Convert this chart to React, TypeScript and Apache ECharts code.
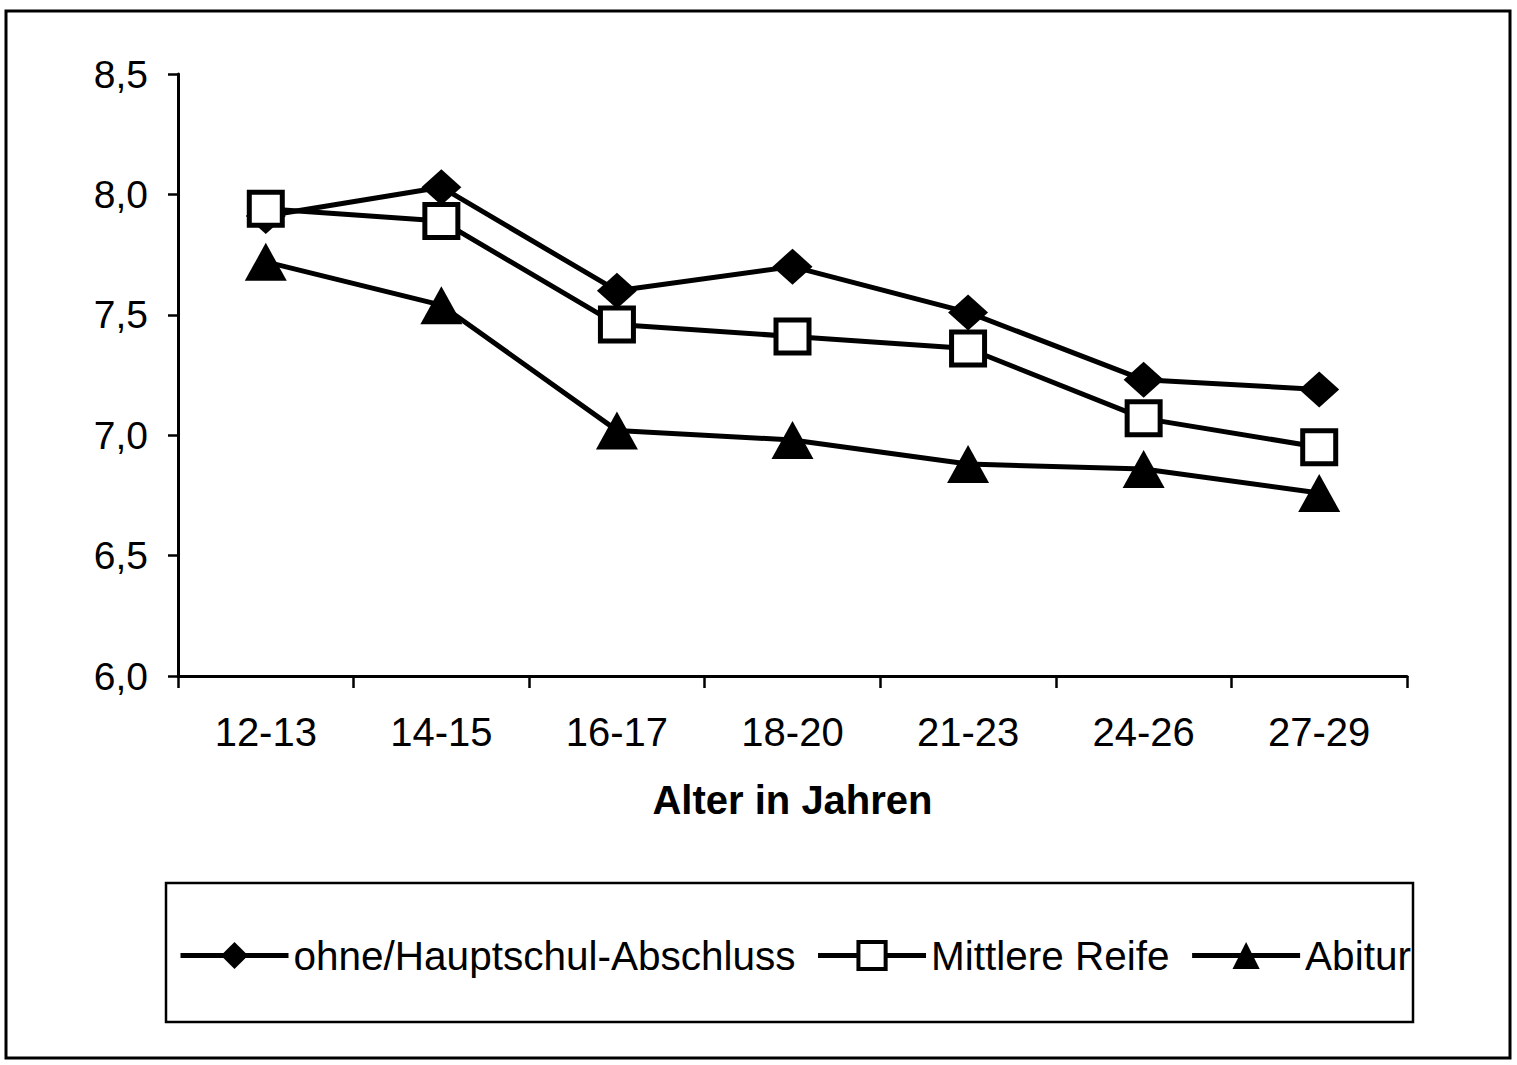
import React, { useEffect, useRef } from "react";
import * as echarts from "echarts";

const categories = ["12-13", "14-15", "16-17", "18-20", "21-23", "24-26", "27-29"];
const ohneHauptschul = [7.91, 8.03, 7.6, 7.7, 7.51, 7.23, 7.19];
const mittlereReife = [7.94, 7.89, 7.46, 7.41, 7.36, 7.07, 6.95];
const abitur = [7.72, 7.54, 7.02, 6.98, 6.88, 6.86, 6.76];
const seriesNames = ["ohne/Hauptschul-Abschluss", "Mittlere Reife", "Abitur"];
const yMin = 6.0;
const yMax = 8.5;
const yStep = 0.5;
const xAxisName = "Alter in Jahren";

const FONT = '"Liberation Sans", Arial, Helvetica, sans-serif';

export default function App() {
  const ref = useRef<HTMLDivElement>(null);
  useEffect(() => {
    if (!ref.current) return;
    const chart = echarts.init(ref.current, null, { renderer: "svg" });
    const lineStyle = { color: "#000", width: 5 };
    chart.setOption({
      animation: false,
      backgroundColor: "#fff",
      textStyle: { fontFamily: FONT, color: "#000" },
      grid: { left: 178, right: 110, top: 74, bottom: 389, containLabel: false },
      xAxis: {
        type: "category",
        data: categories,
        boundaryGap: true,
        name: xAxisName,
        nameLocation: "middle",
        nameGap: 104,
        nameTextStyle: { fontFamily: FONT, fontSize: 40, fontWeight: "bold", color: "#000" },
        axisLine: { lineStyle: { color: "#000", width: 3 } },
        axisTick: { show: true, length: 12, lineStyle: { color: "#000", width: 2.5 } },
        axisLabel: { fontFamily: FONT, fontSize: 40, color: "#000", margin: 36 },
        splitLine: { show: false },
      },
      yAxis: {
        type: "value",
        min: yMin,
        max: yMax,
        interval: yStep,
        axisLine: { show: true, lineStyle: { color: "#000", width: 3 } },
        axisTick: { show: true, length: 10, lineStyle: { color: "#000", width: 2.5 } },
        axisLabel: {
          fontFamily: FONT,
          fontSize: 39,
          color: "#000",
          margin: 30,
          formatter: (v: number) => v.toFixed(1).replace(".", ","),
        },
        splitLine: { show: false },
      },
      legend: {
        left: 178,
        top: 935,
        padding: 0,
        itemGap: 20,
        itemWidth: 108,
        itemHeight: 34,
        lineStyle: { width: 5, color: "#000" },
        textStyle: { fontFamily: FONT, fontSize: 40.5, color: "#000" },
        data: [
          { name: seriesNames[0] },
          { name: seriesNames[1], itemStyle: { color: "#fff", borderColor: "#000", borderWidth: 4 } },
          { name: seriesNames[2] },
        ],
      },
      graphic: [
        {
          type: "rect",
          shape: { x: 6, y: 11, width: 1504, height: 1047 },
          style: { fill: "none", stroke: "#000", lineWidth: 3 },
          z: 0,
        },
        {
          type: "rect",
          shape: { x: 166, y: 883, width: 1247, height: 139 },
          style: { fill: "none", stroke: "#000", lineWidth: 2.5 },
          z: 0,
        },
      ],
      series: [
        {
          name: seriesNames[0],
          type: "line",
          data: ohneHauptschul,
          symbol: "diamond",
          symbolSize: [40, 36],
          lineStyle,
          itemStyle: { color: "#000" },
        },
        {
          name: seriesNames[1],
          type: "line",
          data: mittlereReife,
          symbol: "rect",
          symbolSize: 33,
          lineStyle,
          itemStyle: { color: "#fff", borderColor: "#000", borderWidth: 5 },
        },
        {
          name: seriesNames[2],
          type: "line",
          data: abitur,
          symbol: "triangle",
          symbolSize: [42, 38],
          lineStyle,
          itemStyle: { color: "#000" },
        },
      ],
    });
    return () => chart.dispose();
  }, []);
  return (
    <div
      ref={ref}
      style={{ position: "absolute", left: 0, top: 0, width: 1517, height: 1065, background: "#fff" }}
    />
  );
}
